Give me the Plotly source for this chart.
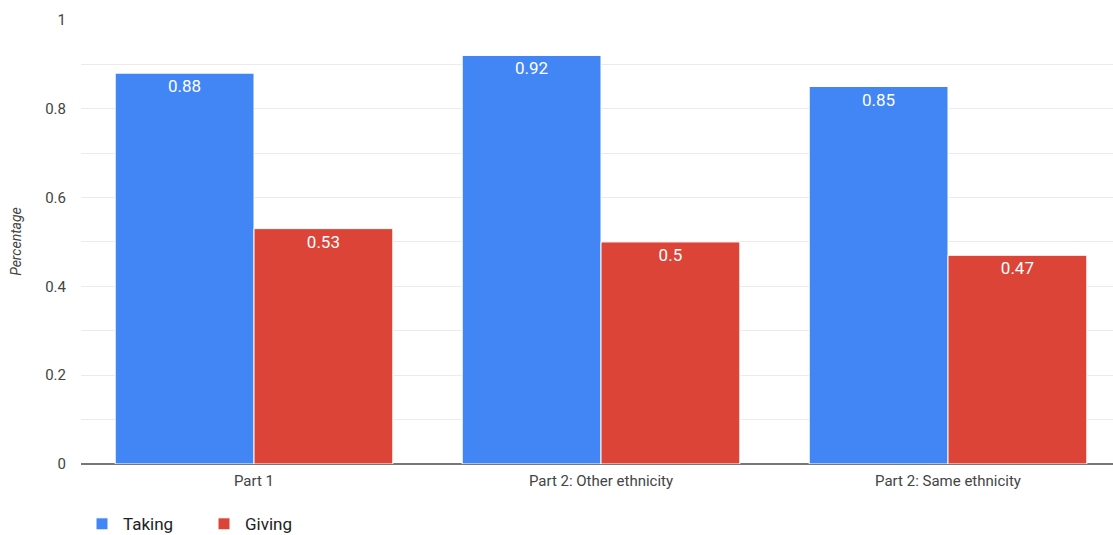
import plotly.graph_objects as go

categories = ["Part 1", "Part 2: Other ethnicity", "Part 2: Same ethnicity"]
taking = [0.88, 0.92, 0.85]
giving = [0.53, 0.5, 0.47]
taking_labels = ["0.88", "0.92", "0.85"]
giving_labels = ["0.53", "0.5", "0.47"]

FONT = "Roboto, Arial, sans-serif"

fig = go.Figure()
fig.add_trace(go.Bar(
    x=categories, y=taking, name="Taking", text=taking_labels,
    marker=dict(color="#4285f4", line=dict(color="#ffffff", width=1)),
    textposition="inside", insidetextanchor="end",
    textfont=dict(color="#ffffff", size=17, family=FONT),
    hoverinfo="skip",
))
fig.add_trace(go.Bar(
    x=categories, y=giving, name="Giving", text=giving_labels,
    marker=dict(color="#db4437", line=dict(color="#ffffff", width=1)),
    textposition="inside", insidetextanchor="end",
    textfont=dict(color="#ffffff", size=17, family=FONT),
    hoverinfo="skip",
))

fig.update_layout(
    width=1113, height=535,
    margin=dict(l=81, r=0, t=19, b=71, autoexpand=False),
    paper_bgcolor="#ffffff", plot_bgcolor="#ffffff",
    font=dict(family=FONT, color="#444444", size=15),
    barmode="group", bargap=0.2, bargroupgap=0,
    uniformtext=dict(minsize=17, mode="show"),
    showlegend=True,
    legend=dict(orientation="h", x=0, xanchor="left", y=-0.095, yanchor="top",
                font=dict(size=17, color="#222222", family=FONT),
                itemwidth=32, entrywidth=75, entrywidthmode="pixels",
                traceorder="normal"),
    xaxis=dict(range=[-0.4986, 2.4755], showgrid=False, showline=False,
               ticks="", tickfont=dict(size=15, color="#444444"),
               ticklabelstandoff=6, fixedrange=True, automargin=False),
    yaxis=dict(range=[0, 1.002], dtick=0.2, tick0=0,
               showgrid=True, gridcolor="#ebebeb", gridwidth=1,
               minor=dict(dtick=0.1, showgrid=True, gridcolor="#ebebeb", gridwidth=1),
               zeroline=True, zerolinecolor="#777777", zerolinewidth=1.5,
               tickfont=dict(size=15, color="#444444"),
               ticks="", ticklabelstandoff=14, automargin=False,
               title=dict(text="<i>Percentage</i>", font=dict(size=14, color="#444444"),
                          standoff=20),
               fixedrange=True),
)

fig.write_html(
    "out.html",
    config={"displayModeBar": False},
    post_script="document.body.style.margin='0';document.body.style.overflow='hidden';",
)
